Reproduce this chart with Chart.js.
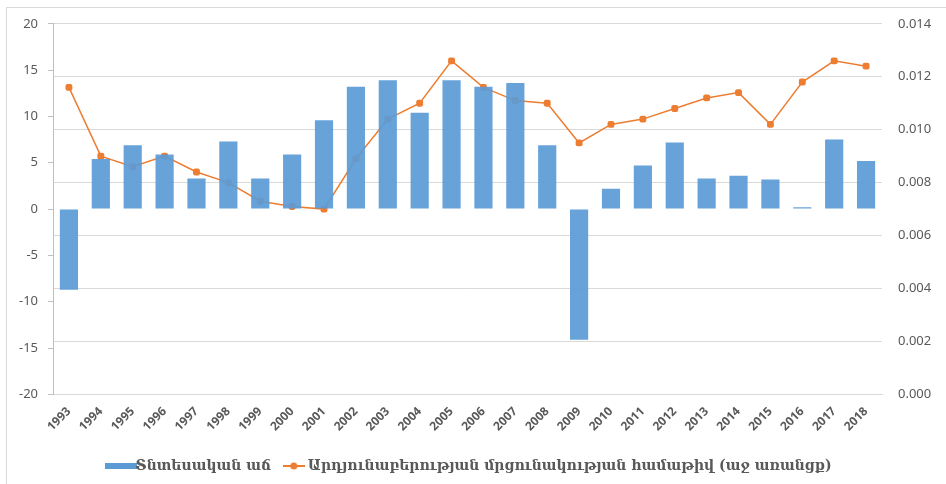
<!DOCTYPE html>
<html>
<head>
<meta charset="utf-8">
<script src="https://cdn.jsdelivr.net/npm/chart.js@4"></script>
<style>
  html, body { margin: 0; padding: 0; background: #fff; }
  #wrap { width: 946px; height: 484px; position: relative; }
</style>
</head>
<body>
<div id="wrap"><canvas id="growthChart" width="946" height="484"></canvas></div>
<script>
// categories
var years = ["1993", "1994", "1995", "1996", "1997", "1998", "1999", "2000", "2001", "2002", "2003", "2004", "2005",
  "2006", "2007", "2008", "2009", "2010", "2011", "2012", "2013", "2014", "2015", "2016", "2017", "2018"];

// economic growth, % (left axis)
var gdpGrowth = [-8.7, 5.4, 6.9, 5.9, 3.3, 7.3, 3.3, 5.9, 9.6, 13.2, 13.9, 10.4, 13.9,
  13.2, 13.6, 6.9, -14.1, 2.2, 4.7, 7.2, 3.3, 3.6, 3.2, 0.2, 7.5, 5.2];

// competitiveness index (right axis)
var cipIndex = [0.0116, 0.0090, 0.0086, 0.0090, 0.0084, 0.0080, 0.0073, 0.0071, 0.0070, 0.0089, 0.0104, 0.0110, 0.0126,
  0.0116, 0.0111, 0.0110, 0.0095, 0.0102, 0.0104, 0.0108, 0.0112, 0.0114, 0.0102, 0.0118, 0.0126, 0.0124];

var seriesNames = ["Տնտեսական աճ", "Արդյունաբերության մրցունակության համաթիվ (աջ առանցք)"];

var blue = "#5b9bd5";
var orange = "#ed7d31";
var gridGray = "#d9d9d9";
var textGray = "#595959";

// legend keys
function barKey() {
  var c = document.createElement("canvas");
  c.width = 32; c.height = 8;
  var g = c.getContext("2d");
  g.fillStyle = blue;
  g.fillRect(0, 1, 32, 6);
  return c;
}
function lineKey() {
  var c = document.createElement("canvas");
  c.width = 22; c.height = 8;
  var g = c.getContext("2d");
  g.strokeStyle = orange; g.lineWidth = 2;
  g.beginPath(); g.moveTo(0, 4); g.lineTo(22, 4); g.stroke();
  g.fillStyle = orange;
  g.beginPath(); g.arc(11, 4, 3.5, 0, Math.PI * 2); g.fill();
  return c;
}

var frame = {
  id: "frame",
  beforeDraw: function (chart) {
    var c = chart.ctx;
    c.save();
    c.strokeStyle = gridGray;
    c.lineWidth = 1;
    c.strokeRect(6.5, 7.5, 946, 484);
    c.restore();
  }
};

var ctx = document.getElementById("growthChart").getContext("2d");
var chart = new Chart(ctx, {
  data: {
    labels: years,
    datasets: [{
      type: "bar",
      label: seriesNames[0],
      data: gdpGrowth,
      yAxisID: "y",
      backgroundColor: "rgba(91, 155, 213, 0.93)",
      barPercentage: 0.57,
      categoryPercentage: 1,
      order: 0
    }, {
      type: "line",
      label: seriesNames[1],
      data: cipIndex,
      yAxisID: "y1",
      borderColor: orange,
      borderWidth: 1.5,
      backgroundColor: orange,
      pointStyle: "rectRounded",
      pointRadius: 4,
      pointBackgroundColor: orange,
      pointBorderWidth: 0,
      tension: 0,
      order: 1
    }]
  },
  options: {
    responsive: false,
    animation: false,
    layout: { padding: { top: 17, left: 0, right: 0, bottom: 1 } },
    plugins: {
      tooltip: { enabled: false },
      legend: {
        position: "bottom",
        labels: {
          usePointStyle: true,
          color: textGray,
          font: { family: "DejaVu Serif", size: 14, weight: "bold" },
          padding: 16,
          generateLabels: function (ch) {
            var items = Chart.defaults.plugins.legend.labels.generateLabels(ch);
            items[0].pointStyle = barKey();
            items[1].pointStyle = lineKey();
            return items;
          }
        }
      }
    },
    scales: {
      x: {
        grid: { display: false },
        border: { color: gridGray },
        ticks: {
          color: textGray,
          font: { family: "Noto Sans", size: 12, weight: "bold" },
          minRotation: 45,
          maxRotation: 45,
          padding: 2
        },
        afterFit: function (s) { s.height += 7; }
      },
      y: {
        position: "left",
        min: -20,
        max: 20,
        ticks: {
          stepSize: 5,
          color: textGray,
          font: { family: "Noto Sans", size: 13 },
          padding: 10
        },
        grid: { drawOnChartArea: false, tickLength: 5, color: "#bfbfbf" },
        border: { color: "#bfbfbf" },
        afterFit: function (s) { s.width = 53; }
      },
      y1: {
        position: "right",
        min: 0,
        max: 0.014,
        ticks: {
          stepSize: 0.002,
          color: textGray,
          font: { family: "Noto Sans", size: 13 },
          padding: 16,
          callback: function (v) { return v.toFixed(3); }
        },
        grid: { color: gridGray, drawTicks: false },
        border: { display: false },
        afterFit: function (s) { s.width = 64; }
      }
    }
  },
  plugins: [frame]
});
</script>
</body>
</html>
